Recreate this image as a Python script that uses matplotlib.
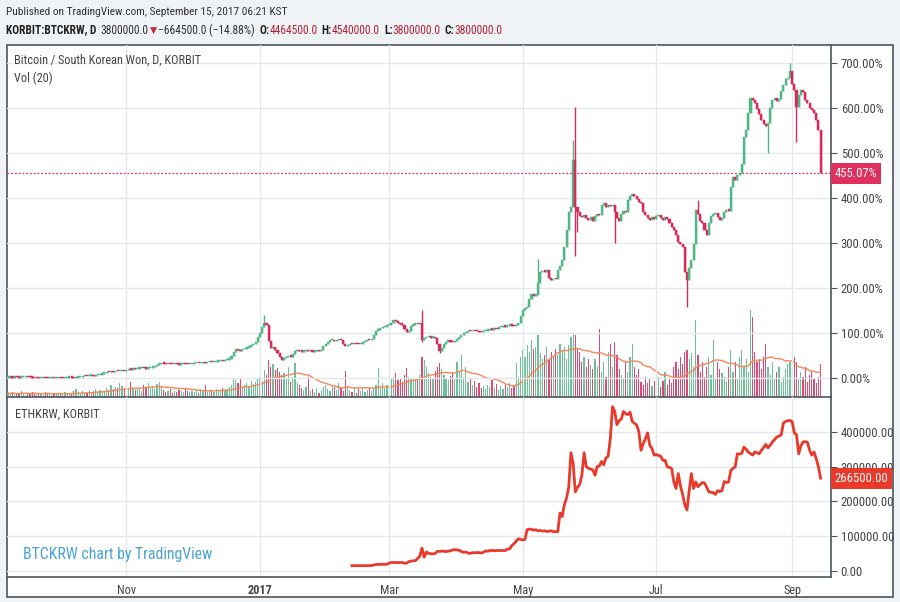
import matplotlib
matplotlib.use('Agg')
import matplotlib.pyplot as plt
import matplotlib.dates as mdates
from matplotlib.patches import Rectangle
import numpy as np
import pandas as pd

plt.rcParams['font.family'] = ['Roboto Condensed', 'Roboto', 'DejaVu Sans']

# BTCKRW daily close, % change vs first close (684600 KRW)
btc_sep16 = [0, 0.8, 0.4, 1.2, 1.0, 0.2, 0.6, 1.0, 1.4, 0.9, 0.5, 0.1, -0.5, -1.0, -1.4, -0.9, -0.6, -1.1, -1.5, -1.0, -0.6, -1.0, -0.5]
btc_oct16 = [0.0, -0.4, -0.9, -0.5, 0.1, 0.5, 0.1, -0.4, 0.2, 0.6, 1.5, 3.0, 4.0, 3.4, 4.5, 5.0, 4.2, 5.5, 6.2, 7.0,
             9.0, 11.0, 13.0, 12.0, 14.0, 13.2, 15.0, 14.2, 15.0, 16.0, 15.2]
btc_nov16 = [17.0, 19.5, 18.0, 20.5, 19.0, 20.0, 21.0, 22.0, 21.0, 20.0, 21.0, 22.5, 23.0, 26.0, 29.0, 31.0, 32.5, 31.5, 30.0, 31.0,
             30.0, 29.5, 30.5, 30.0, 29.0, 30.0, 31.0, 30.0, 29.5, 30.5]
btc_dec16 = [31, 32, 33, 32, 33, 34, 33, 34, 35, 34, 35, 36, 37, 38, 37, 39, 40, 41, 48, 58,
             65, 62, 60, 63, 65, 67, 69, 72, 75, 80, 90]
btc_jan17 = [100, 112, 121, 118, 82, 66, 69, 62, 55, 46, 40, 43, 45, 48, 47, 52, 60, 62, 59, 58,
             60, 61, 59, 60, 58, 59, 61, 60, 62, 70, 76]
btc_feb17 = [80, 83, 84, 82, 83, 84, 83, 76, 70, 73, 75, 74, 76, 75, 74, 76, 80, 82, 85, 84,
             87, 96, 105, 106, 110, 112, 114, 117]
btc_mar17 = [118, 122, 128, 126, 121, 120, 118, 108, 102, 104, 116, 118, 120, 119, 121, 83, 88, 90, 91, 89,
             90, 88, 75, 60, 66, 74, 80, 83, 80, 79, 82]
btc_apr17 = [87, 90, 94, 100, 102, 104, 103, 105, 104, 103, 102, 101, 103, 105, 106, 108, 107, 109, 108, 112,
             113, 115, 114, 116, 117, 116, 115, 118, 122, 138]
btc_may17 = [150, 155, 157, 176, 187, 183, 185, 210, 235, 238, 236, 240, 222, 218, 220, 219, 240, 248, 262, 290,
             330, 368, 380, 485, 380, 368, 360, 357, 362, 355, 352]
btc_jun17 = [357, 350, 360, 364, 362, 385, 388, 380, 385, 382, 384, 370, 355, 350, 365, 372, 368, 395, 405, 410,
             405, 398, 392, 388, 370, 362, 355, 352, 358, 354]
btc_jul17 = [360, 362, 356, 352, 358, 354, 345, 335, 330, 318, 302, 298, 290, 235, 218, 245, 262, 298, 373, 365,
             350, 345, 330, 318, 345, 360, 364, 366, 358, 352, 356]
btc_aug17 = [370, 374, 372, 425, 448, 440, 452, 455, 475, 535, 552, 590, 622, 618, 612, 598, 588, 575, 565, 560,
             568, 600, 618, 622, 616, 620, 638, 652, 665, 668, 682]
btc_sep17 = [655, 640, 602, 630, 640, 636, 618, 612, 600, 596, 590, 575, 552, 455.07]

# long wicks
wick_dates = ['2017-01-03', '2017-03-16', '2017-03-24', '2017-05-08', '2017-05-24', '2017-05-25', '2017-05-26',
              '2017-06-12', '2017-07-15', '2017-07-20', '2017-08-21', '2017-08-31', '2017-09-03']
wick_high = [140, 150, np.nan, 265, 530, 603, np.nan, np.nan, np.nan, 395, np.nan, 702, np.nan]
wick_low = [np.nan, 80, 55, np.nan, np.nan, 270, 325, 300, 157, np.nan, 500, np.nan, 525]

# volume (arbitrary units)
vol_sep16 = [4, 3, 5, 2, 3, 4, 6, 3, 2, 4, 3, 5, 3, 2, 4, 3, 2, 5, 3, 4, 2, 3, 4]
vol_oct16 = [3, 4, 2, 5, 3, 4, 3, 6, 8, 5, 4, 6, 5, 4, 7, 5, 6, 8, 6, 7, 5, 6, 9, 7, 12, 8, 10, 9, 14, 11, 9]
vol_nov16 = [10, 8, 15, 9, 7, 8, 9, 6, 12, 10, 14, 9, 11, 8, 13, 15, 10, 7, 5, 6, 8, 4, 6, 5, 7, 6, 5, 8, 6, 5]
vol_dec16 = [6, 5, 7, 4, 8, 6, 12, 5, 7, 6, 5, 8, 6, 7, 9, 6, 8, 10, 12, 19, 17, 14, 19, 9, 12, 14, 11, 16, 13, 15, 18]
vol_jan17 = [20, 16, 27, 22, 37, 30, 33, 27, 29, 25, 22, 24, 18, 30, 15, 20, 34, 14, 12, 9, 7, 10, 20, 6, 8, 5, 9, 4, 7, 10, 12]
vol_feb17 = [8, 6, 12, 10, 7, 14, 9, 6, 26, 11, 7, 5, 9, 4, 8, 6, 10, 5, 7, 9, 6, 8, 12, 29, 10, 14, 9, 12]
vol_mar17 = [14, 18, 20, 24, 17, 19, 15, 22, 29, 20, 18, 16, 19, 17, 22, 40, 37, 30, 24, 20, 18, 26, 30, 34, 28, 22, 19, 17, 21, 24, 18]
vol_apr17 = [35, 26, 42, 20, 30, 15, 18, 12, 16, 10, 14, 9, 11, 8, 12, 10, 17, 9, 13, 7, 11, 8, 12, 10, 14, 9, 11, 34, 20, 40]
vol_may17 = [47, 40, 52, 45, 57, 48, 50, 62, 44, 38, 42, 50, 37, 45, 40, 48, 42, 53, 46, 50, 38, 52, 60, 63, 62, 48, 45, 35, 40, 30, 38]
vol_jun17 = [32, 28, 38, 30, 68, 25, 35, 20, 45, 53, 30, 55, 42, 28, 22, 18, 35, 25, 40, 53, 30, 22, 28, 15, 12, 20, 14, 18, 11, 16]
vol_jul17 = [13, 20, 10, 16, 25, 12, 18, 14, 30, 35, 28, 40, 33, 45, 47, 38, 44, 30, 77, 42, 25, 35, 20, 30, 40, 22, 57, 18, 35, 28, 24]
vol_aug17 = [20, 15, 30, 47, 25, 35, 18, 40, 47, 30, 38, 25, 87, 80, 45, 35, 38, 28, 40, 53, 30, 22, 35, 18, 25, 30, 15, 20, 28, 33, 35]
vol_sep17 = [28, 40, 35, 18, 25, 20, 30, 15, 22, 26, 18, 14, 20, 33]

# ETHKRW daily close from 2017-02-12
eth_feb = [14500, 14300, 14400, 14600, 14500, 14400, 14300, 14500, 14700, 14800, 16500, 17800, 18400, 18200, 18500, 18600, 18400]
eth_mar = [22000, 23500, 23800, 23600, 23400, 23800, 23600, 21600, 21800, 26000, 27500, 28500, 29000, 35000, 42000, 65000,
           39000, 54000, 50000, 49000, 48500, 49500, 56000, 55500, 56500, 56000, 55000, 56500, 57000, 60000, 60500]
eth_apr = [60000, 59000, 55000, 53000, 54000, 51000, 50000, 52000, 51500, 52500, 52000, 51000, 53000, 57000, 56000,
           58000, 58500, 57500, 58000, 58500, 58000, 58200, 58000, 62000, 63000, 72000, 78000, 85000, 92000, 90000]
eth_may = [89000, 90000, 118000, 120000, 119000, 117000, 118000, 115000, 116000, 114000, 115000, 113000, 114000, 115000,
           112000, 113000, 112000, 166000, 156000, 190000, 210000, 240000, 340000, 310000, 227000, 240000, 248000,
           275000, 340000, 300000, 295000]
eth_jun = [293000, 290000, 275000, 300000, 302000, 315000, 305000, 325000, 330000, 382000, 473000, 459000, 421000,
           432000, 437000, 459000, 452000, 450000, 457000, 430000, 425000, 420000, 401000, 347000, 366000, 380000,
           397000, 362000, 352000, 333000]
eth_jul = [335000, 332000, 330000, 318000, 318000, 299000, 298000, 294000, 256000, 237000, 280000, 245000, 220000,
           190000, 175000, 230000, 280000, 237000, 256000, 242000, 248000, 254000, 253000, 240000, 227000, 226000,
           225000, 220000, 231000, 228000, 231000]
eth_aug = [257000, 254000, 256000, 289000, 295000, 299000, 337000, 336000, 338000, 356000, 350000, 342000, 337000,
           333000, 342000, 340000, 337000, 347000, 355000, 364000, 354000, 362000, 371000, 378000, 385000, 388000,
           391000, 425000, 430000, 432000, 433000]
eth_sep = [430000, 397000, 392000, 337000, 360000, 371000, 372000, 370000, 347000, 333000, 342000, 323000, 300000, 266500]

month_ticks = ['2016-11-01', '2017-01-01', '2017-03-01', '2017-05-01', '2017-07-01', '2017-09-01']
month_labels = ['Nov', '2017', 'Mar', 'May', 'Jul', 'Sep']

close = np.array(btc_sep16 + btc_oct16 + btc_nov16 + btc_dec16 + btc_jan17 + btc_feb17 + btc_mar17
                 + btc_apr17 + btc_may17 + btc_jun17 + btc_jul17 + btc_aug17 + btc_sep17, dtype=float)
vol = np.array(vol_sep16 + vol_oct16 + vol_nov16 + vol_dec16 + vol_jan17 + vol_feb17 + vol_mar17
               + vol_apr17 + vol_may17 + vol_jun17 + vol_jul17 + vol_aug17 + vol_sep17, dtype=float)
eth = np.array(eth_feb + eth_mar + eth_apr + eth_may + eth_jun + eth_jul + eth_aug + eth_sep, dtype=float)

dates = pd.date_range('2016-09-08', periods=len(close), freq='D')
eth_dates = pd.date_range('2017-02-12', periods=len(eth), freq='D')
x = mdates.date2num(dates)
xe = mdates.date2num(eth_dates)

opn = np.concatenate([[close[0]], close[:-1]])
high = np.maximum(opn, close)
low = np.minimum(opn, close)
for d, h, l in zip(wick_dates, wick_high, wick_low):
    i = np.where(dates == pd.Timestamp(d))[0][0]
    if not np.isnan(h):
        high[i] = h
    if not np.isnan(l):
        low[i] = l
up = close >= opn

GREEN = '#52b686'
RED = '#d9295b'
GRID = '#e4e8ec'
DARK = '#4e545c'
TXT = '#444444'

W, H = 900, 602
fig = plt.figure(figsize=(9, 6.02), dpi=100, facecolor='#f0f3f6')
r = fig.canvas.get_renderer()


def fx(px):
    return px / W


def fy(py):
    return 1 - py / H


def size_for(s, target_px, **kw):
    # font size that gives the text the width seen in the screenshot
    t = fig.text(0, 0, s, fontsize=10, **kw)
    w = t.get_window_extent(renderer=r).width
    t.remove()
    return 10 * target_px / w


# white chart box (behind the axes)
fig.patches.append(Rectangle((fx(7), fy(597)), fx(886), 552 / H, transform=fig.transFigure,
                             facecolor='white', edgecolor=DARK, lw=1.2, zorder=-5))

ax = fig.add_axes([fx(7), fy(397), fx(824), 352 / H])
axe = fig.add_axes([fx(7), fy(577), fx(824), 180 / H], sharex=ax)
axv = ax.twinx()
ax.set_zorder(3)
axv.set_zorder(2)
axe.set_zorder(3)
ax.patch.set_visible(False)
axv.patch.set_visible(False)
axe.patch.set_visible(False)

px_per_day = 2.19
x0 = x[0] - 0.5
ax.set_xlim(x0, x0 + 824 / px_per_day)

# candles
cols = np.where(up, GREEN, RED)
ax.vlines(x, low, high, colors=cols, lw=1.0, zorder=3)
ax.bar(x, np.maximum(np.abs(close - opn), 2.8), bottom=np.minimum(opn, close), width=0.95,
       color=cols, edgecolor=cols, lw=0.3, zorder=4)
ax.set_ylim((377.7 - 397) / 0.449, (377.7 - 45) / 0.449)

# volume + MA(20)
vol_ma = pd.Series(vol).rolling(20, min_periods=1).mean()
axv.bar(x, vol, width=0.55, color=cols, alpha=0.85, lw=0, zorder=2)
axv.plot(x, vol_ma, color='#f3875a', lw=1.0, zorder=3)
axv.set_ylim(0, 352)
axv.set_yticks([])

# last price line
last = close[-1]
ax.axhline(last, color='#d42e6a', lw=0.9, ls=(0, (1.5, 1.5)), zorder=2)

# ETH line
axe.plot(xe, eth, color='#e8392b', lw=2.0, solid_joinstyle='round')
axe.set_ylim(-(577 - 570.7) / 34.7 * 100000, (570.7 - 397) / 34.7 * 100000)

tick_size = size_for('700.00%', 42)
for a in (ax, axe):
    a.yaxis.tick_right()
    a.grid(True, color=GRID, lw=1)
    a.set_axisbelow(True)
    for s in ('left', 'top'):
        a.spines[s].set_visible(False)
    for s in ('right', 'bottom'):
        a.spines[s].set_color(DARK)
        a.spines[s].set_linewidth(1.2)
    a.tick_params(axis='y', direction='out', length=4, color=DARK, labelcolor=TXT, labelsize=tick_size, pad=3)
    a.set_xticks(mdates.date2num(pd.to_datetime(month_ticks)))

for s in ('left', 'top', 'right', 'bottom'):
    axv.spines[s].set_visible(False)

ax.set_yticks(np.arange(0, 701, 100))
ax.set_yticklabels(['%.2f%%' % v for v in np.arange(0, 701, 100)])
ax.tick_params(axis='x', length=0, labelbottom=False)

axe.set_yticks(np.arange(0, 400001, 100000))
axe.set_yticklabels(['%.2f' % v for v in np.arange(0, 400001, 100000)])
axe.tick_params(axis='x', length=0, labelcolor=TXT, labelsize=size_for('Nov', 19), pad=5)
axe.set_xticklabels(month_labels)
for lbl in axe.get_xticklabels():
    if lbl.get_text() == '2017':
        lbl.set_fontweight('bold')

# price labels on the axis
ax.annotate('%.2f%%' % last, xy=(1, last), xycoords=('axes fraction', 'data'), xytext=(2.5, 0),
            textcoords='offset points', va='center', ha='left', color='white', fontsize=tick_size,
            bbox=dict(boxstyle='square,pad=0.3', fc='#e0305e', ec='none'), zorder=10, annotation_clip=False)
axe.annotate('%.2f' % eth[-1], xy=(1, eth[-1]), xycoords=('axes fraction', 'data'), xytext=(2.5, 0),
             textcoords='offset points', va='center', ha='left', color='white', fontsize=tick_size,
             bbox=dict(boxstyle='square,pad=0.3', fc='#e8392b', ec='none'), zorder=10, annotation_clip=False)

# pane captions
cap = size_for('Bitcoin / South Korean Won, D, KORBIT', 187)
fig.text(fx(14), fy(60), 'Bitcoin / South Korean Won, D, KORBIT', fontsize=cap, color=TXT, va='center')
fig.text(fx(14), fy(78), 'Vol (20)', fontsize=cap, color=TXT, va='center')
fig.text(fx(15), fy(414), 'ETHKRW, KORBIT', fontsize=cap, color=TXT, va='center')
fig.text(fx(23), fy(554), 'BTCKRW chart by TradingView', fontsize=size_for('BTCKRW chart by TradingView', 188),
         color='#4aa3d4', va='center')

# header
head = 'Published on TradingView.com, September 15, 2017 06:21 KST'
fig.text(fx(6), fy(12), head, fontsize=size_for(head, 281), color='#333333', va='center')

pieces = [('KORBIT:BTCKRW, D', '#222222', 'bold'), ('3800000.0', '#333333', 'normal'), ('▼', '#c8283c', 'normal'),
          ('\u2212664500.0 (\u221214.88%)', '#333333', 'normal'),
          ('O:', '#222222', 'bold'), ('4464500.0', '#b22234', 'normal'),
          ('H:', '#222222', 'bold'), ('4540000.0', '#b22234', 'normal'),
          ('L:', '#222222', 'bold'), ('3800000.0', '#b22234', 'normal'),
          ('C:', '#222222', 'bold'), ('3800000.0', '#b22234', 'normal')]
gaps = [0, 3, 1, 1, 3, 0, 3, 0, 3, 0, 3, 0]


def draw_line2(fs):
    arts = []
    t = None
    for (s, c, w), g in zip(pieces, gaps):
        fam = ['DejaVu Sans'] if s == '▼' else plt.rcParams['font.family']
        size = fs * 0.8 if s == '▼' else fs
        if t is None:
            t = fig.text(fx(6), fy(30), s, fontsize=size, color=c, fontweight=w, va='center')
        else:
            t = ax.annotate(s, xy=(1, 0.5), xycoords=t, xytext=(g, 0), textcoords='offset points',
                            va='center', ha='left', fontsize=size, color=c, fontweight=w,
                            family=fam, annotation_clip=False)
        arts.append(t)
    return arts


line2 = draw_line2(9)
span = line2[-1].get_window_extent(renderer=r).x1 - line2[0].get_window_extent(renderer=r).x0
for t in line2:
    t.remove()
draw_line2(9 * 501 / span)

fig.savefig('out.png', dpi=100, facecolor=fig.get_facecolor())
